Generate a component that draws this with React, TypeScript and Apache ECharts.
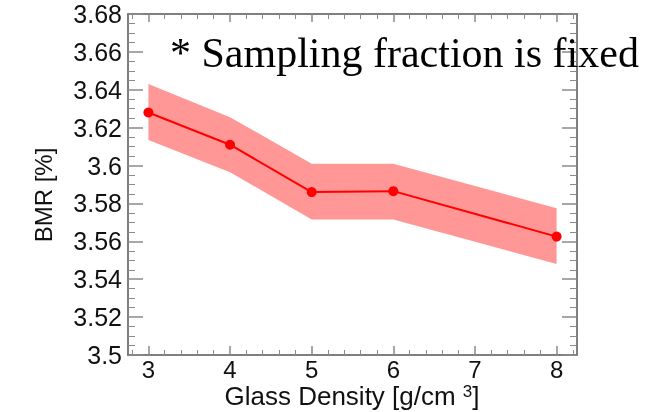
import React, { useEffect, useRef } from "react";
import * as echarts from "echarts";

const glassDensity = [3, 4, 5, 6, 8];
const bmr = [3.628, 3.611, 3.586, 3.5865, 3.5625];
const bmrUpper = [3.643, 3.6255, 3.601, 3.601, 3.5775];
const bmrLower = [3.6135, 3.5965, 3.5715, 3.5715, 3.548];
const xTickLabels = [3, 4, 5, 6, 7, 8];
const xMinorTicks = [
  2.8, 3.2, 3.4, 3.6, 3.8, 4.2, 4.4, 4.6, 4.8, 5.2, 5.4, 5.6, 5.8, 6.2, 6.4, 6.6, 6.8,
  7.2, 7.4, 7.6, 7.8, 8.2,
];
const titleText = "* Sampling fraction is fixed";
const yName = "BMR [%]";
const xName = "{a|Glass Density [g/cm }{s|3}{a|]}";

export default function App() {
  const ref = useRef<HTMLDivElement>(null);
  useEffect(() => {
    if (!ref.current) return;
    const chart = echarts.init(ref.current, null, { renderer: "svg" });
    const axisColor = "#555";
    const tickColor = "#8a8a8a";
    const sans = "Liberation Sans";
    const xBase = {
      type: "value" as const,
      min: 2.75,
      max: 8.25,
      splitLine: { show: false },
      axisLine: { show: false, onZero: false },
    };
    chart.setOption({
      animation: false,
      grid: {
        left: 128,
        right: 74,
        top: 14,
        bottom: 57,
        containLabel: false,
        outerBoundsMode: "none",
      },
      xAxis: [
        {
          ...xBase,
          position: "bottom",
          axisLine: { show: true, onZero: false, lineStyle: { color: axisColor, width: 1.5 } },
          axisTick: {
            show: true,
            inside: true,
            length: 9,
            customValues: xTickLabels,
            lineStyle: { color: tickColor, width: 1.5 },
          },
          axisLabel: {
            customValues: xTickLabels,
            margin: 2,
            fontFamily: sans,
            fontSize: 24,
            lineHeight: 24,
            color: "#111",
          },
        },
        {
          ...xBase,
          position: "bottom",
          axisTick: {
            show: true,
            inside: true,
            length: 5,
            customValues: xMinorTicks,
            lineStyle: { color: tickColor, width: 1 },
          },
          axisLabel: { show: false },
        },
        {
          ...xBase,
          position: "top",
          axisLine: { show: true, onZero: false, lineStyle: { color: axisColor, width: 1.5 } },
          axisTick: {
            show: true,
            inside: true,
            length: 8,
            customValues: xTickLabels,
            lineStyle: { color: tickColor, width: 1.5 },
          },
          axisLabel: { show: false },
        },
        {
          ...xBase,
          position: "top",
          axisTick: {
            show: true,
            inside: true,
            length: 5,
            customValues: xMinorTicks,
            lineStyle: { color: tickColor, width: 1 },
          },
          axisLabel: { show: false },
        },
      ],
      yAxis: [
        {
          type: "value",
          min: 3.5,
          max: 3.68,
          interval: 0.02,
          position: "left",
          splitLine: { show: false },
          axisLine: { show: true, onZero: false, lineStyle: { color: axisColor, width: 1.5 } },
          axisTick: { show: true, inside: true, length: 15, lineStyle: { color: tickColor, width: 1.5 } },
          minorTick: { show: true, splitNumber: 4, length: 7, lineStyle: { color: tickColor, width: 1 } },
          axisLabel: { margin: 6, fontFamily: sans, fontSize: 25, color: "#111" },
        },
        {
          type: "value",
          min: 3.5,
          max: 3.68,
          interval: 0.02,
          position: "right",
          splitLine: { show: false },
          axisLine: { show: true, onZero: false, lineStyle: { color: axisColor, width: 1.5 } },
          axisTick: { show: true, inside: true, length: 15, lineStyle: { color: tickColor, width: 1.5 } },
          minorTick: { show: true, splitNumber: 4, length: 7, lineStyle: { color: tickColor, width: 1 } },
          axisLabel: { show: false },
        },
      ],
      graphic: [
        {
          type: "text",
          x: 170,
          y: 53,
          style: {
            text: titleText,
            fontFamily: "Liberation Serif",
            fontSize: 42,
            fill: "#000",
            textAlign: "left",
            textVerticalAlign: "middle",
          },
          z: 100,
        },
        {
          type: "text",
          x: 43,
          y: 195,
          rotation: Math.PI / 2,
          style: {
            text: yName,
            fontFamily: sans,
            fontSize: 24,
            fill: "#111",
            textAlign: "center",
            textVerticalAlign: "middle",
          },
        },
        {
          type: "text",
          x: 352,
          y: 396,
          style: {
            text: xName,
            textAlign: "center",
            textVerticalAlign: "middle",
            rich: {
              a: { fontFamily: sans, fontSize: 26, fill: "#111", lineHeight: 26 },
              s: { fontFamily: sans, fontSize: 17, fill: "#111", verticalAlign: "top", lineHeight: 17 },
            },
          },
        },
      ],
      series: [
        {
          type: "custom",
          xAxisIndex: 0,
          yAxisIndex: 0,
          data: glassDensity.map((x, i) => [x, bmrLower[i], bmrUpper[i]]),
          silent: true,
          z: 1,
          renderItem: (params: any, api: any) => {
            if (params.dataIndex !== 0) return null;
            const pts: number[][] = [];
            for (let i = 0; i < glassDensity.length; i++) {
              pts.push(api.coord([glassDensity[i], bmrUpper[i]]));
            }
            for (let i = glassDensity.length - 1; i >= 0; i--) {
              pts.push(api.coord([glassDensity[i], bmrLower[i]]));
            }
            return {
              type: "polygon",
              shape: { points: pts },
              style: { fill: "#ff9797", stroke: "none" },
            };
          },
        },
        {
          type: "line",
          xAxisIndex: 0,
          yAxisIndex: 0,
          data: glassDensity.map((x, i) => [x, bmr[i]]),
          symbol: "circle",
          symbolSize: 10,
          itemStyle: { color: "#ff0000" },
          lineStyle: { color: "#ff0000", width: 2 },
          z: 3,
        },
      ],
    });
    return () => chart.dispose();
  }, []);
  return (
    <div
      ref={ref}
      style={{ position: "fixed", left: 0, top: 0, width: 651, height: 412 }}
    />
  );
}
